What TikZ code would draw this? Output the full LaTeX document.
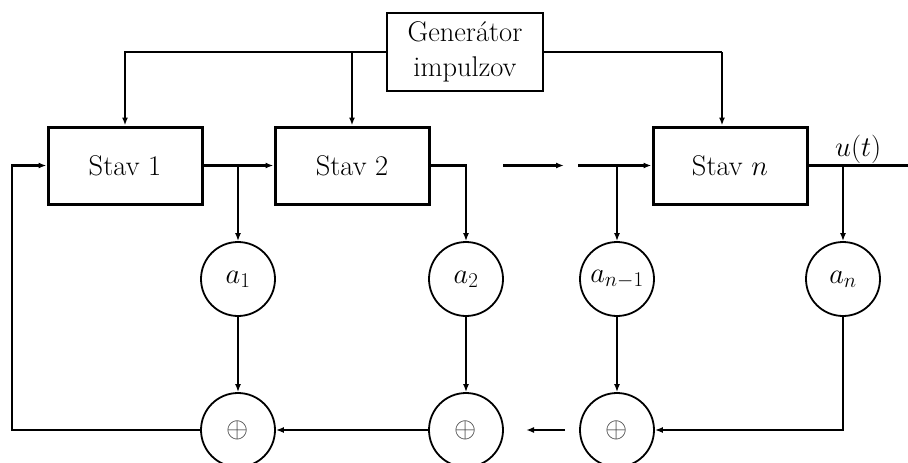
\RequirePackage{fix-cm}
\documentclass[tikz,border=0pt]{standalone}
\usetikzlibrary{arrows.meta}
\DeclareMathSizes{28.5}{28.5}{21}{16}
\begin{document}
\begin{tikzpicture}[x=1pt,y=-1pt,
  every node/.style={font=\fontsize{28.5}{35}\selectfont},
  conn/.style={line width=2.1pt},
  arr/.style={conn,-{Latex[length=8pt,width=6pt]}},
  blockbox/.style={draw,line width=3pt,minimum width=154pt,minimum height=77pt,inner sep=0pt},
  genbox/.style={draw,line width=2.6pt,minimum width=156pt,minimum height=78pt,inner sep=0pt,align=center},
  coef/.style={draw,circle,line width=1.8pt,minimum size=74pt,inner sep=0pt},
  summ/.style={draw,circle,line width=1.8pt,minimum size=74pt,inner sep=0pt}]
\useasboundingbox (0,0) rectangle (908,463);
% blocks
\node[genbox] (gen) at (465,52) {Generátor\\impulzov};
\node[blockbox] (s1) at (125,165.5) {Stav 1};
\node[blockbox] (s2) at (352,165.5) {Stav 2};
\node[blockbox] (sn) at (730,165.5) {Stav $n$};
% coefficient circles
\node[coef] (a1) at (238,279) {$a_1$};
\node[coef] (a2) at (466,279) {$a_2$};
\node[coef] (an1) at (617,279) {$a_{n-1}$};
\node[coef] (an) at (843,279) {$a_n$};
% adders
\node[summ] (p1) at (238,430) {\textcolor{black!75}{$\oplus$}};
\node[summ] (p2) at (466,430) {\textcolor{black!75}{$\oplus$}};
\node[summ] (pn1) at (617,430) {\textcolor{black!75}{$\oplus$}};
% auxiliary points
\coordinate (gb) at (352,52);
\coordinate (gn) at (722,52);
\coordinate (j1) at (238,165.5);
\coordinate (g1) at (503,165.5);
\coordinate (g2) at (564,165.5);
\coordinate (g3) at (578,165.5);
\coordinate (j3) at (617,165.5);
\coordinate (j4) at (843,165.5);
\coordinate (out) at (908,165.5);
\coordinate (g4) at (565,430);
\coordinate (g5) at (526,430);
\coordinate (fb) at (12,430);
% generator lines
\draw[arr] (gen.west) -| (s1.north);
\draw[arr] (gb) -- (s2.north);
\draw[conn] (gen.east) -- (gn);
\draw[arr] (gn) -- (gn |- sn.north);
% main chain
\draw[arr] (s1.east) -- (s2.west);
\draw[arr] (j1) -- (a1.north);
\draw[arr] (s2.east) -| (a2.north);
\draw[arr] (g1) -- (g2);
\draw[arr] (g3) -- (sn.west);
\draw[arr] (j3) -- (an1.north);
\draw[conn] (sn.east) -- (out) node[pos=0.5,above=-2pt] {$u(t)$};
\draw[arr] (j4) -- (an.north);
% to adders
\draw[arr] (a1.south) -- (p1.north);
\draw[arr] (a2.south) -- (p2.north);
\draw[arr] (an1.south) -- (pn1.north);
\draw[arr] (an.south) |- (pn1.east);
\draw[arr] (g4) -- (g5);
\draw[arr] (p2.west) -- (p1.east);
\draw[arr] (p1.west) -- (fb) |- (s1.west);
\end{tikzpicture}
\end{document}
